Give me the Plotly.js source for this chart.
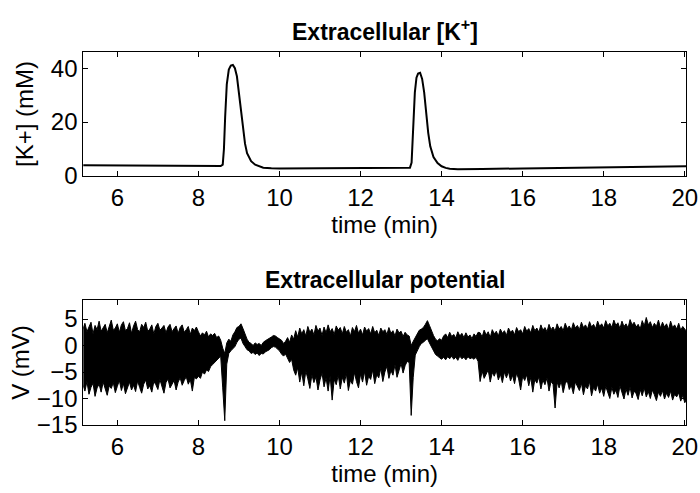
<!DOCTYPE html>
<html><head><meta charset="utf-8">
<script src="https://cdn.plot.ly/plotly-3.0.1.min.js"></script>
<style>body{margin:0;background:#fff}#c{width:700px;height:493px}</style>
</head><body><div id="c"></div>
<script>
// Top panel: extracellular potassium (mM) vs time (min)
const tK = [5.15, 6, 7, 8, 8.55, 8.6, 8.63, 8.66, 8.7, 8.75, 8.8, 8.85, 8.9, 8.95, 9.0, 9.05, 9.1, 9.15, 9.2, 9.3, 9.4, 9.5, 9.6, 9.8, 10, 11, 12, 13, 13.22, 13.26, 13.3, 13.34, 13.38, 13.42, 13.47, 13.52, 13.57, 13.62, 13.67, 13.72, 13.8, 13.9, 14.0, 14.1, 14.2, 14.4, 14.7, 15, 16, 17, 18, 19, 20.05];
const kVals = [4.0, 3.9, 3.8, 3.7, 3.7, 4.2, 10, 22, 34, 39.5, 41, 41.2, 40, 37, 31, 24, 17, 12, 8.5, 5.5, 4.2, 3.5, 3.1, 2.9, 2.8, 2.9, 3.0, 3.1, 3.1, 5, 18, 31, 36.5, 38, 38.3, 36, 31, 23, 16, 11, 7, 4.8, 3.6, 3.0, 2.7, 2.5, 2.5, 2.6, 2.8, 3.0, 3.2, 3.4, 3.6];

// Bottom panel: extracellular potential, read as upper and lower edge of the dense trace (mV)
const tV = [
5.15,5.2,5.25,5.3,5.35,5.4,5.45,5.5,5.55,5.6,5.65,5.7,5.75,5.8,5.85,5.9,5.95,
6,6.05,6.1,6.15,6.2,6.25,6.3,6.35,6.4,6.45,6.5,6.55,6.6,6.65,6.7,6.75,6.8,6.85,6.9,6.95,
7,7.05,7.1,7.15,7.2,7.25,7.3,7.35,7.4,7.45,7.5,7.55,7.6,7.65,7.7,7.75,7.8,7.85,7.9,7.95,
8,8.05,8.1,8.15,8.2,8.25,8.3,8.35,8.4,8.45,8.5,8.55,8.6,8.65,8.7,8.75,8.8,8.85,8.9,8.95,
9,9.05,9.1,9.15,9.2,9.25,9.3,9.35,9.4,9.45,9.5,9.55,9.6,9.65,9.7,9.75,9.8,9.85,9.9,9.95,
10,10.05,10.1,10.15,10.2,10.25,10.3,10.35,10.4,10.45,10.5,10.55,10.6,10.65,10.7,10.75,10.8,10.85,10.9,10.95,
11,11.05,11.1,11.15,11.2,11.25,11.3,11.35,11.4,11.45,11.5,11.55,11.6,11.65,11.7,11.75,11.8,11.85,11.9,11.95,
12,12.05,12.1,12.15,12.2,12.25,12.3,12.35,12.4,12.45,12.5,12.55,12.6,12.65,12.7,12.75,12.8,12.85,12.9,12.95,
13,13.05,13.1,13.15,13.2,13.25,13.3,13.35,13.4,13.45,13.5,13.55,13.6,13.65,13.7,13.75,13.8,13.85,13.9,13.95,
14,14.05,14.1,14.15,14.2,14.25,14.3,14.35,14.4,14.45,14.5,14.55,14.6,14.65,14.7,14.75,14.8,14.85,14.9,14.95,
15,15.05,15.1,15.15,15.2,15.25,15.3,15.35,15.4,15.45,15.5,15.55,15.6,15.65,15.7,15.75,15.8,15.85,15.9,15.95,
16,16.05,16.1,16.15,16.2,16.25,16.3,16.35,16.4,16.45,16.5,16.55,16.6,16.65,16.7,16.75,16.8,16.85,16.9,16.95,
17,17.05,17.1,17.15,17.2,17.25,17.3,17.35,17.4,17.45,17.5,17.55,17.6,17.65,17.7,17.75,17.8,17.85,17.9,17.95,
18,18.05,18.1,18.15,18.2,18.25,18.3,18.35,18.4,18.45,18.5,18.55,18.6,18.65,18.7,18.75,18.8,18.85,18.9,18.95,
19,19.05,19.1,19.15,19.2,19.25,19.3,19.35,19.4,19.45,19.5,19.55,19.6,19.65,19.7,19.75,19.8,19.85,19.9,19.95,
20,20.05];
const vTop = [
// 5.15 - 7.95
3.1,4.2,2.6,3.5,4.4,2.2,3.8,3.0,4.6,2.7,3.4,4.0,2.4,3.6,4.8,2.9,3.3,4.1,2.5,3.9,4.5,2.8,3.2,4.3,2.3,3.7,4.6,3.0,2.6,4.0,3.4,4.4,2.7,3.1,3.9,2.2,3.6,4.2,2.9,3.3,3.8,2.4,3.5,4.0,2.6,3.2,3.7,2.3,3.4,3.9,2.5,3.0,3.6,2.1,3.3,2.8,3.5,
// 8.00 - 8.55
2.6,1.8,2.4,2.0,2.7,1.6,2.2,1.9,2.3,1.5,1.8,1.0,
// 8.60 - 10.35
-0.5,-1.5,0.5,1.2,0.8,2.0,2.6,3.4,3.6,4.1,3.2,2.2,1.2,0.6,0.4,0.0,0.5,0.2,0.4,0.0,0.6,0.9,1.1,1.3,1.6,1.9,1.8,1.5,1.2,1.0,0.4,0.8,1.5,0.6,2.0,1.2,
// 10.40 - 13.15
2.8,1.6,3.3,2.2,3.0,1.8,3.6,2.5,3.1,2.0,3.8,2.7,3.3,1.9,3.5,2.4,3.9,2.6,3.2,2.1,3.7,2.9,3.4,2.2,3.6,2.5,3.0,1.8,3.4,2.6,3.8,2.3,3.1,2.0,3.5,2.7,3.2,2.2,3.6,2.4,2.9,1.9,3.3,2.6,3.0,2.1,3.4,2.3,2.8,1.8,3.1,2.4,2.7,1.7,2.5,2.0,
// 13.20 - 14.90
1.8,0.0,0.8,1.6,2.4,2.9,3.1,3.4,4.0,4.7,3.8,2.8,1.9,1.2,0.9,1.3,1.0,1.8,2.2,1.5,2.5,1.7,2.1,1.4,2.6,1.8,2.3,1.5,2.4,1.6,2.0,1.3,2.2,1.7,2.5,
// 14.95 - 20.05
2.4,1.6,2.9,2.0,2.6,1.5,3.0,2.2,2.7,1.8,3.1,2.3,2.8,1.9,3.3,2.5,2.9,2.0,3.4,2.6,3.0,2.2,3.6,2.7,3.2,2.4,3.8,2.8,3.3,2.5,3.9,2.9,3.4,2.6,4.0,3.0,3.5,2.7,4.1,3.1,3.6,2.8,4.2,3.2,3.7,2.9,4.3,3.3,3.8,3.0,4.4,3.4,3.9,3.1,4.5,3.5,4.0,3.2,4.6,3.6,4.1,3.3,4.7,3.7,4.2,3.4,4.8,3.8,4.3,3.2,4.6,3.6,4.1,3.3,4.9,3.9,4.4,3.5,4.0,3.1,4.7,3.7,5.3,3.9,4.5,3.4,4.2,3.6,4.8,3.3,4.4,3.5,4.1,3.0,4.6,3.4,3.9,3.1,4.2,2.9,3.6,3.2,2.6];
const vBot = [
// 5.15 - 7.95
-7.4,-8.6,-6.8,-9.2,-7.9,-7.1,-9.6,-8.0,-7.3,-8.8,-6.9,-8.3,-9.4,-7.6,-8.1,-7.0,-8.9,-7.7,-6.6,-8.5,-7.2,-9.1,-7.8,-6.9,-8.4,-7.5,-8.7,-6.7,-7.9,-9.0,-7.3,-6.5,-8.2,-7.6,-8.8,-6.8,-7.4,-8.3,-6.4,-7.7,-9.0,-7.0,-6.3,-8.0,-7.2,-6.6,-8.4,-6.9,-6.1,-7.5,-6.6,-5.9,-7.3,-6.4,-8.6,-6.0,-6.3,
// 8.00 - 8.55
-5.8,-6.2,-5.0,-5.4,-4.6,-4.9,-4.0,-3.6,-3.2,-2.8,-2.4,-2.0,
// 8.60 - 10.35
-8.0,-14.2,-3.5,-1.5,-1.0,-0.6,-0.2,0.6,1.2,1.4,0.4,-0.2,-0.8,-1.0,-1.5,-1.3,-1.7,-1.4,-1.9,-1.5,-1.6,-1.2,-1.0,-0.8,-0.4,-0.2,-0.3,-0.6,-1.0,-1.6,-2.0,-1.6,-2.4,-3.2,-2.6,-4.6,
// 10.40 - 13.15
-5.6,-4.2,-6.9,-5.0,-7.6,-4.8,-6.3,-8.1,-5.5,-7.0,-5.9,-8.4,-6.5,-5.2,-7.8,-6.1,-8.6,-5.7,-10.3,-6.4,-7.4,-5.6,-8.2,-6.0,-7.1,-5.3,-8.5,-6.6,-7.3,-5.1,-6.8,-8.0,-5.4,-6.9,-4.9,-7.5,-5.8,-6.4,-4.6,-7.2,-5.5,-6.1,-4.3,-6.8,-5.0,-3.9,-6.2,-4.7,-5.6,-3.6,-6.0,-4.4,-3.4,-5.2,-3.8,-3.0,
// 13.20 - 14.90
-3.2,-13.2,-6.0,-1.8,-0.8,-0.2,0.4,0.6,1.0,1.3,0.5,-0.2,-1.0,-1.7,-2.0,-2.3,-2.6,-2.2,-2.7,-2.1,-2.5,-2.0,-2.6,-2.2,-2.8,-2.0,-2.5,-2.2,-2.7,-2.1,-2.5,-2.3,-2.6,-2.2,-3.0,
// 14.95 - 20.05
-6.8,-4.8,-6.2,-5.3,-4.6,-6.9,-5.1,-5.8,-4.7,-6.5,-5.4,-7.0,-5.0,-6.1,-4.9,-6.7,-5.6,-7.2,-5.2,-6.3,-8.4,-5.8,-6.6,-5.5,-7.6,-6.0,-8.8,-6.4,-7.1,-5.9,-8.2,-6.5,-7.4,-6.1,-8.6,-6.8,-7.3,-11.8,-6.9,-8.0,-6.7,-8.9,-7.2,-6.6,-8.3,-7.5,-9.1,-6.9,-7.8,-8.5,-7.1,-9.3,-7.6,-8.2,-6.8,-9.5,-7.9,-8.6,-7.3,-9.0,-8.0,-9.6,-7.7,-8.8,-10.0,-7.9,-9.2,-8.4,-9.8,-7.6,-8.9,-10.1,-8.2,-9.4,-7.8,-9.9,-8.6,-9.1,-10.2,-8.3,-9.5,-8.0,-9.7,-8.7,-10.0,-8.4,-9.3,-10.4,-8.8,-9.6,-8.5,-10.1,-9.0,-9.8,-8.6,-10.3,-9.2,-9.7,-8.9,-10.5,-9.4,-10.8,-10.0];

const kTicks = [0, 20, 40];
const vTicks = [-15, -10, -5, 0, 5];
const tTicks = [6, 8, 10, 12, 14, 16, 18, 20];

const FONT = 'Liberation Sans, Arial, Helvetica, sans-serif';
const axisX = (anchor) => ({
  anchor: anchor, domain: [0.119, 0.98], range: [5.16, 20.03],
  tickvals: tTicks, ticks: 'inside', ticklen: 5, tickcolor: '#000',
  showline: true, linecolor: '#000', linewidth: 1, mirror: 'ticks',
  showgrid: false, zeroline: false,
  tickfont: {family: FONT, size: 24, color: '#000'},
  title: {text: 'time (min)', font: {family: FONT, size: 24, color: '#000'}, standoff: 2}
});
const axisY = (anchor, dom, rng, tv, ttl, so) => ({
  anchor: anchor, domain: dom, range: rng, tickvals: tv,
  ticks: 'inside', ticklen: 5, tickcolor: '#000',
  showline: true, linecolor: '#000', linewidth: 1, mirror: 'ticks',
  showgrid: false, zeroline: false,
  tickfont: {family: FONT, size: 24, color: '#000'},
  title: {text: ttl, font: {family: FONT, size: 24, color: '#000'}, standoff: so}
});

const data = [
  {x: tK, y: kVals, xaxis: 'x', yaxis: 'y', mode: 'lines', line: {color: '#000', width: 2}, hoverinfo: 'skip'},
  {x: tV, y: vTop, xaxis: 'x2', yaxis: 'y2', mode: 'lines', line: {color: '#000', width: 1}, hoverinfo: 'skip'},
  {x: tV, y: vBot, xaxis: 'x2', yaxis: 'y2', mode: 'lines', line: {color: '#000', width: 1}, fill: 'tonexty', fillcolor: '#000', hoverinfo: 'skip'}
];

const layout = {
  width: 700, height: 493, showlegend: false,
  paper_bgcolor: '#fff', plot_bgcolor: '#fff',
  margin: {l: 0, r: 0, t: 0, b: 0},
  xaxis: axisX('y'),
  yaxis: axisY('x', [0.643, 0.8945], [0, 46], kTicks, '[K+] (mM)', 10),
  xaxis2: axisX('y2'),
  yaxis2: axisY('x2', [0.138, 0.3915], [-15, 8.6], vTicks, 'V (mV)', 0),
  annotations: [
    {text: '<b>Extracellular [K<sup>+</sup>]</b>', xref: 'paper', yref: 'paper', x: 0.55, y: 1 - 30/493, xanchor: 'center', yanchor: 'middle', showarrow: false, font: {family: FONT, size: 23, color: '#000'}},
    {text: '<b>Extracellular potential</b>', xref: 'paper', yref: 'paper', x: 0.55, y: 1 - 280/493, xanchor: 'center', yanchor: 'middle', showarrow: false, font: {family: FONT, size: 23, color: '#000'}}
  ]
};

Plotly.newPlot('c', data, layout, {displayModeBar: false, staticPlot: true});
</script>
</body></html>
